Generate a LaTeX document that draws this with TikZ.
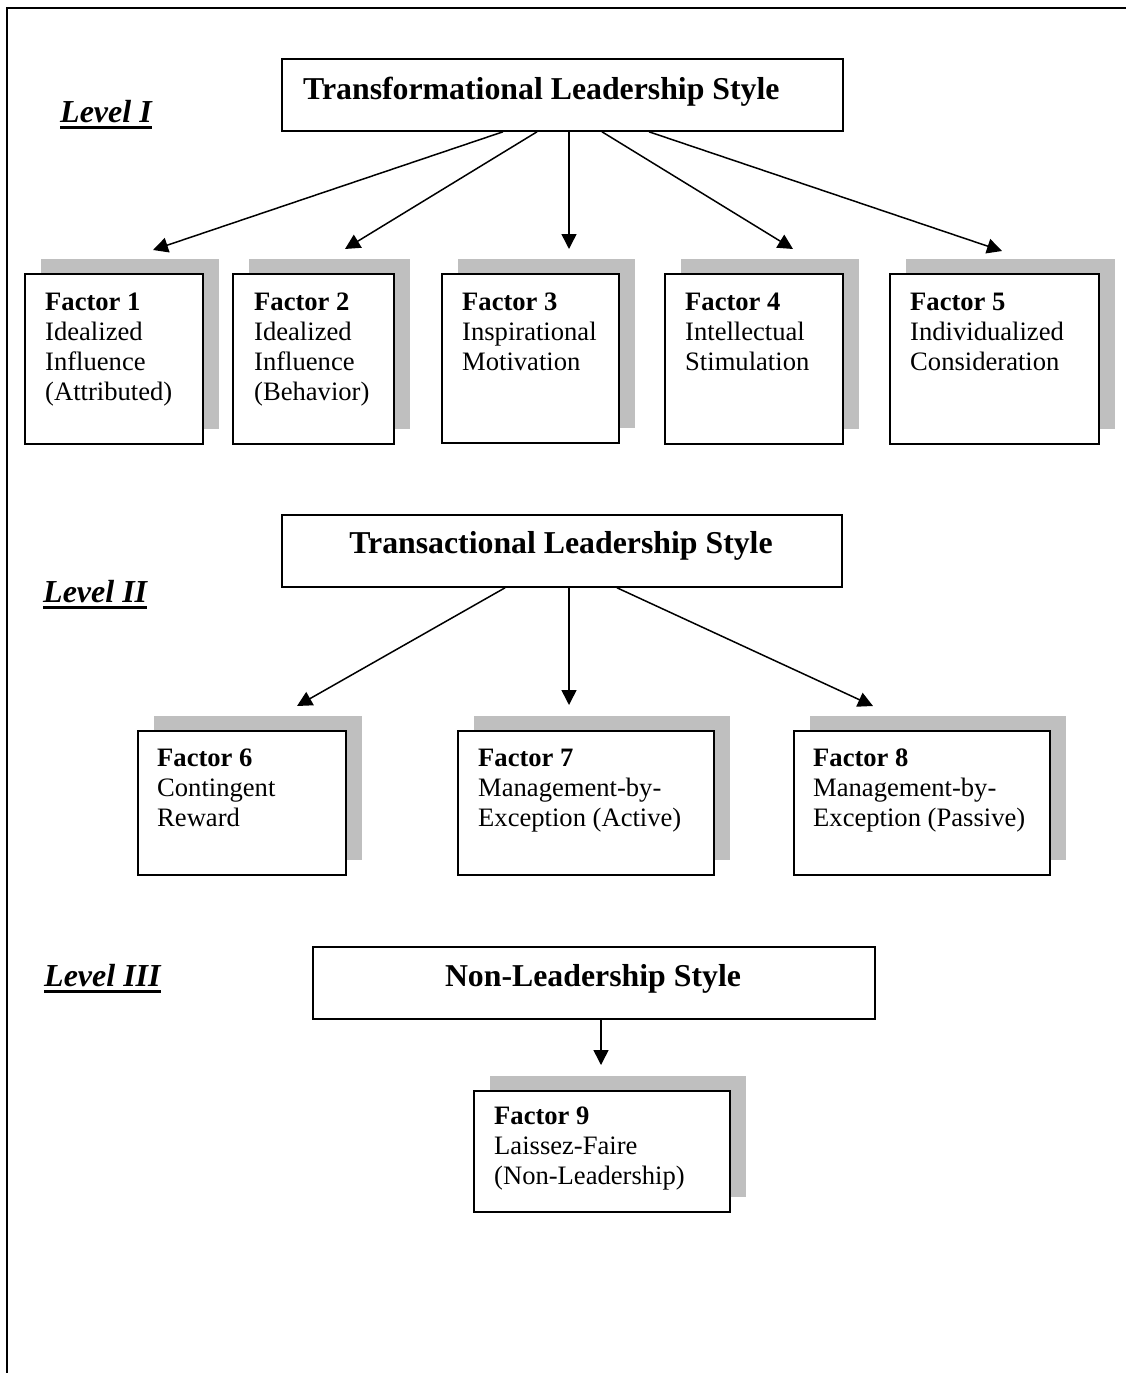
\documentclass[tikz,border=0pt]{standalone}
\usepackage{fontspec}
\setmainfont{Liberation Serif}
\usetikzlibrary{calc,arrows.meta,shadows}
\newcommand{\bodysize}{\fontsize{26.6}{30}\selectfont}
\newcommand{\headsize}{\fontsize{31.8}{36}\selectfont\bfseries}
\newcommand{\lvlsize}{\fontsize{32}{36}\selectfont\bfseries\itshape}
\tikzset{
  fbox/.style={draw, line width=1.8pt, fill=white, anchor=north west, inner sep=0pt,
    drop shadow={shadow xshift=16pt, shadow yshift=15pt, fill=black!25, opacity=1}},
  hbox/.style={draw, line width=1.8pt, fill=white, anchor=north west, inner sep=0pt},
  ftext/.style={anchor=base west, inner sep=0pt, font=\bodysize},
  htext/.style={inner sep=0pt, font=\headsize},
  lvl/.style={anchor=base west, inner sep=0pt, font=\lvlsize},
  arr/.style={line width=1.5pt, -{Triangle[length=15pt,width=15pt]}},
  uline/.style={line width=3pt},
}
\begin{document}
\begin{tikzpicture}[x=1pt,y=-1pt]
\useasboundingbox[fill=white] (0,0) rectangle (1126,1373);
% frame
\draw[line width=2.3pt] (7,1373) -- (7,8) -- (1126,8);

% level labels
\node[lvl] (l1) at (60,122) {Level I};
\draw[uline] ($(l1.base west)+(0,5)$) -- ($(l1.base east)+(0,5)$);
\node[lvl] (l2) at (43,602) {Level II};
\draw[uline] ($(l2.base west)+(0,5)$) -- ($(l2.base east)+(0,5)$);
\node[lvl] (l3) at (44,986) {Level III};
\draw[uline] ($(l3.base west)+(0,5)$) -- ($(l3.base east)+(0,5)$);

% heading boxes
\node[hbox, minimum width=561pt, minimum height=72pt] (t1) at (281,58) {};
\node[htext, anchor=base west] (t1t) at (303,99) {Transformational Leadership Style};
\node[hbox, minimum width=560pt, minimum height=72pt] (t2) at (281,514) {};
\node[htext, anchor=base] (t2t) at (561,553) {Transactional Leadership Style};
\node[hbox, minimum width=562pt, minimum height=72pt] (t3) at (312,946) {};
\node[htext, anchor=base] (t3t) at (593,986) {Non-Leadership Style};

% factor boxes row 1
\node[fbox, minimum width=178pt, minimum height=170pt] (f1) at (24,273) {};
\node[fbox, minimum width=161pt, minimum height=170pt] (f2) at (232,273) {};
\node[fbox, minimum width=177pt, minimum height=169pt] (f3) at (441,273) {};
\node[fbox, minimum width=178pt, minimum height=170pt] (f4) at (664,273) {};
\node[fbox, minimum width=209pt, minimum height=170pt] (f5) at (889,273) {};
% row 2
\node[fbox, minimum width=208pt, minimum height=144pt] (f6) at (137,730) {};
\node[fbox, minimum width=256pt, minimum height=144pt] (f7) at (457,730) {};
\node[fbox, minimum width=256pt, minimum height=144pt] (f8) at (793,730) {};
% row 3
\node[fbox, minimum width=256pt, minimum height=121pt] (f9) at (473,1090) {};

% factor texts
\node[ftext] (f1t) at ($(f1.north west)+(21,37)$) {\parbox[t]{300pt}{\textbf{Factor 1}\\Idealized\\Influence\\(Attributed)}};
\node[ftext] (f2t) at ($(f2.north west)+(22,37)$) {\parbox[t]{300pt}{\textbf{Factor 2}\\Idealized\\Influence\\(Behavior)}};
\node[ftext] (f3t) at ($(f3.north west)+(21,37)$) {\parbox[t]{300pt}{\textbf{Factor 3}\\Inspirational\\Motivation}};
\node[ftext] (f4t) at ($(f4.north west)+(21,37)$) {\parbox[t]{300pt}{\textbf{Factor 4}\\Intellectual\\Stimulation}};
\node[ftext] (f5t) at ($(f5.north west)+(21,37)$) {\parbox[t]{300pt}{\textbf{Factor 5}\\Individualized\\Consideration}};
\node[ftext] (f6t) at ($(f6.north west)+(20,36)$) {\parbox[t]{300pt}{\textbf{Factor 6}\\Contingent\\Reward}};
\node[ftext] (f7t) at ($(f7.north west)+(21,36)$) {\parbox[t]{300pt}{\textbf{Factor 7}\\Management-by-\\Exception (Active)}};
\node[ftext] (f8t) at ($(f8.north west)+(20,36)$) {\parbox[t]{300pt}{\textbf{Factor 8}\\Management-by-\\Exception (Passive)}};
\node[ftext] (f9t) at ($(f9.north west)+(21,34)$) {\parbox[t]{300pt}{\textbf{Factor 9}\\Laissez-Faire\\(Non-Leadership)}};

% arrows level I
\draw[arr] ($(t1.south west)+(222,0)$) -- ($(f1.north west)+(129,-23)$);
\draw[arr] ($(t1.south west)+(256,0)$) -- ($(f2.north west)+(113,-24)$);
\draw[arr] ($(t1.south west)+(288,0)$) -- ($(f3.north west)+(128,-24)$);
\draw[arr] ($(t1.south west)+(321,0)$) -- ($(f4.north west)+(129,-24)$);
\draw[arr] ($(t1.south west)+(368,0)$) -- ($(f5.north west)+(113,-22)$);
% arrows level II
\draw[arr] ($(t2.south west)+(224,0)$) -- ($(f6.north west)+(160,-24)$);
\draw[arr] ($(t2.south west)+(288,0)$) -- ($(f7.north west)+(112,-25)$);
\draw[arr] ($(t2.south west)+(336,0)$) -- ($(f8.north west)+(80,-24)$);
% arrow level III
\draw[arr] ($(t3.south west)+(289,0)$) -- ($(f9.north west)+(128,-25)$);
\end{tikzpicture}
\end{document}
